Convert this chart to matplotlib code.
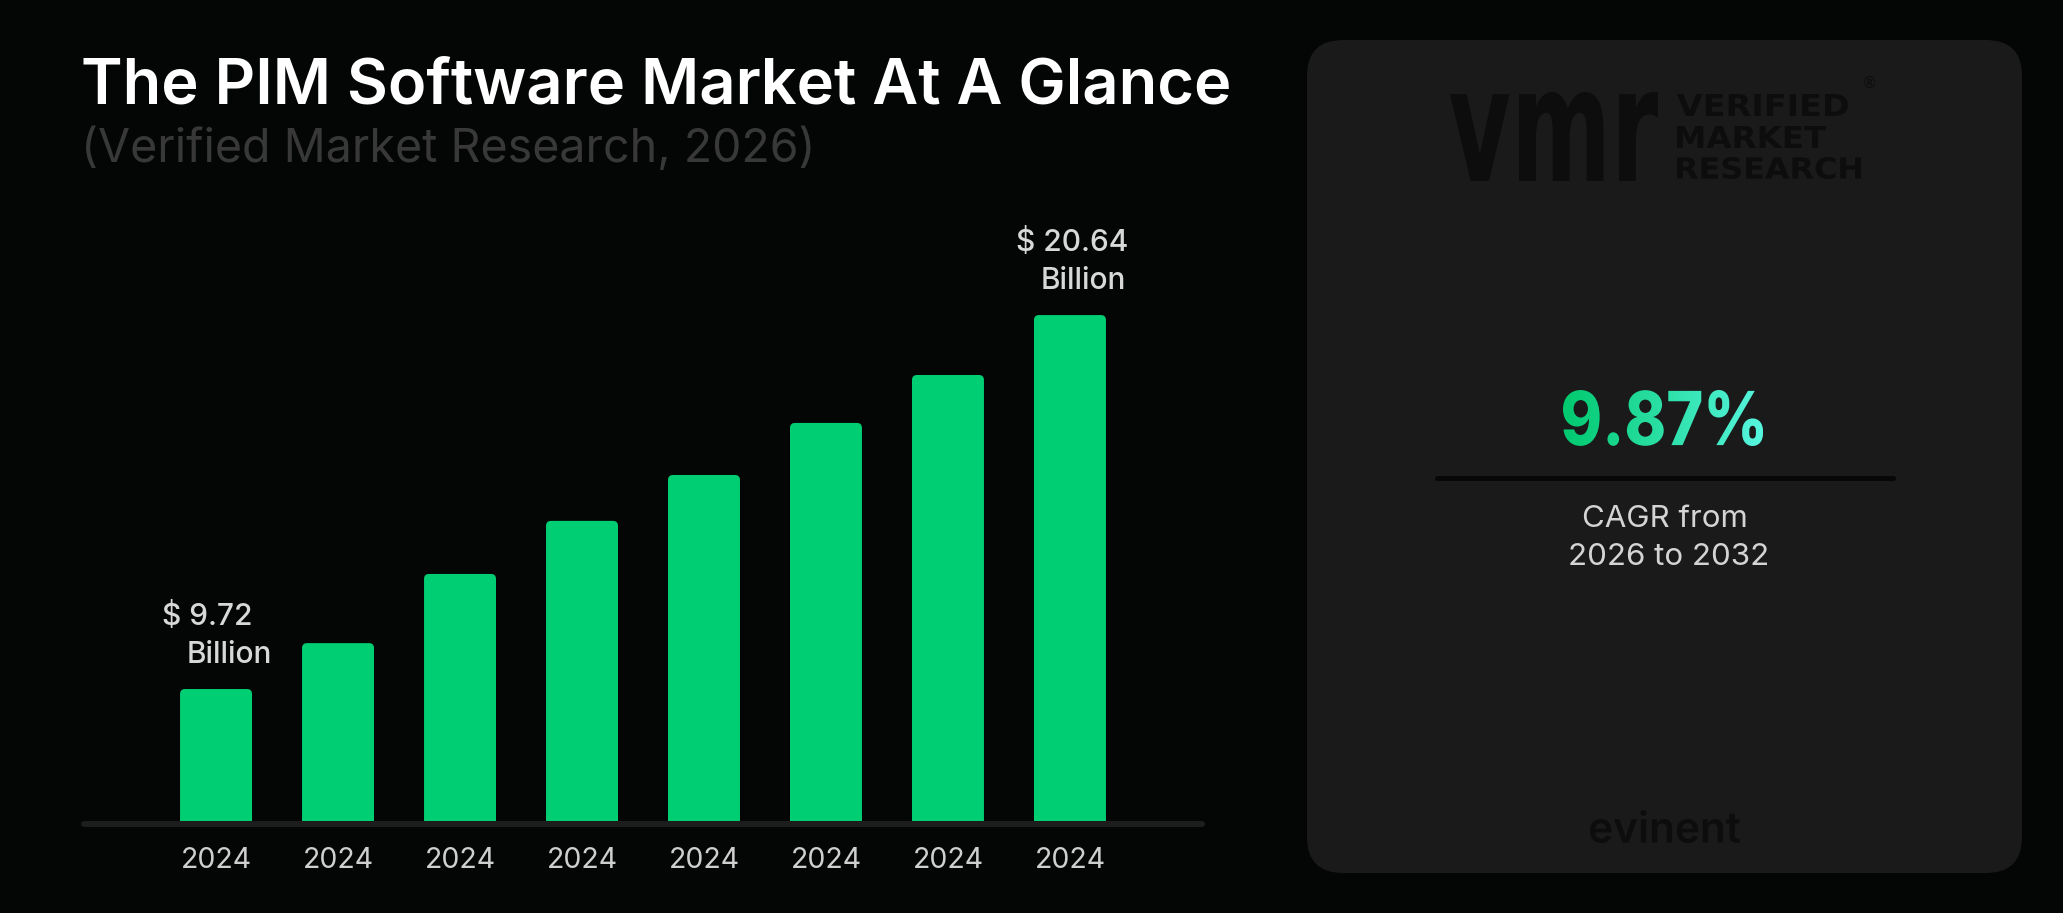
import numpy as np
import matplotlib
matplotlib.use('Agg')
import matplotlib.pyplot as plt
from matplotlib.patches import FancyBboxPatch
from matplotlib.patheffects import AbstractPathEffect
from matplotlib.transforms import Affine2D, TransformedPath

# ---------------- data ----------------
years = ['2024', '2024', '2024', '2024', '2024', '2024', '2024', '2024']
values = [9.72, 11.06, 13.08, 14.63, 15.97, 17.49, 18.89, 20.64]
first_label = '$ 9.72'
last_label = '$ 20.64'
unit_label = 'Billion'
title = 'The PIM Software Market At A Glance'
subtitle = '(Verified Market Research, 2026)'
cagr_value = '9.87%'
cagr_lines = ['CAGR from', '2026 to 2032']
logo_lines = ['VERIFIED', 'MARKET', 'RESEARCH']

# ---------------- style ----------------
FONT = ['Inter', 'DejaVu Sans']
BG = '#040505'
BAR = '#00CE73'
PANEL = '#1a1a1a'
LOGO = '#0d0d0d'
W, H, DPI = 2063, 913, 100

plt.rcParams['font.family'] = FONT


class FitFill(AbstractPathEffect):
    """Draw text path, optionally fitted into a pixel box and/or gradient filled."""

    def __init__(self, box=None, colors=None):
        super().__init__()
        self.box = box
        self.colors = colors

    def draw_path(self, renderer, gc, tpath, affine, rgbFace=None):
        if self.box is not None:
            ext = tpath.transformed(affine).get_extents()
            x0, yt, x1, yb = self.box
            hh = renderer.height
            dy0, dy1 = hh - yb, hh - yt
            sx = (x1 - x0) / ext.width
            sy = (dy1 - dy0) / ext.height
            affine = affine + Affine2D().translate(-ext.x0, -ext.y0).scale(sx, sy).translate(x0, dy0)
        if self.colors is None:
            renderer.draw_path(gc, tpath, affine, rgbFace)
            return
        tp = TransformedPath(tpath, affine)
        ext = tp.get_fully_transformed_path().get_extents()
        w = int(np.ceil(ext.width)) + 4
        h = int(np.ceil(ext.height)) + 4
        c0 = np.array(matplotlib.colors.to_rgb(self.colors[0]))
        c1 = np.array(matplotlib.colors.to_rgb(self.colors[1]))
        t = np.linspace(0, 1, w)[:, None]
        row = (c0 * (1 - t) + c1 * t) * 255
        arr = np.zeros((h, w, 4), dtype=np.uint8)
        arr[:, :, :3] = row[None, :, :].astype(np.uint8)
        arr[:, :, 3] = 255
        gc2 = renderer.new_gc()
        gc2.copy_properties(gc)
        gc2.set_clip_path(tp)
        renderer.draw_image(gc2, int(np.floor(ext.x0)) - 2, int(np.floor(ext.y0)) - 2, arr)
        gc2.restore()


fig = plt.figure(figsize=(W / DPI, H / DPI), dpi=DPI, facecolor=BG)

# overlay axes in pixel coordinates (origin top-left)
bg = fig.add_axes([0, 0, 1, 1], zorder=0)
bg.set_facecolor(BG)
bg.axis('off')

# ---------------- bar chart ----------------
ax_l, ax_r, ax_t, ax_b = 81, 1205, 200, 821
ax = fig.add_axes([ax_l / W, (H - ax_b) / H, (ax_r - ax_l) / W, (ax_b - ax_t) / H], zorder=1)
ax.patch.set_alpha(0)
x = np.arange(len(values))
ax.set_xlim(-1.107, 8.107)
ax.set_ylim(5.866, 24.0)
bars = ax.bar(x, values, width=0.59, color=BAR)

xr = (8.107 + 1.107) / (ax_r - ax_l)
yr = (24.0 - 5.866) / (ax_b - ax_t)
for rect in bars:
    rect.set_visible(False)
    p = FancyBboxPatch((rect.get_x(), rect.get_y()), rect.get_width(), rect.get_height(),
                       boxstyle=f'round,pad=0,rounding_size={5 * xr}',
                       mutation_aspect=yr / xr, fc=BAR, ec='none', zorder=2)
    ax.add_patch(p)

for s in ax.spines.values():
    s.set_visible(False)
ax.set_yticks([])
ax.set_xticks(x, years)
ax.tick_params(axis='x', length=0, pad=19, labelsize=20.5, labelcolor='#cfcfcf')

lab_kw = dict(textcoords='offset pixels', ha='left', va='baseline', fontsize=21.5, color='#d8d8d8',
              weight='medium')
ax.annotate(first_label, xy=(x[0], values[0]), xytext=(-54, 64), **lab_kw)
ax.annotate(unit_label, xy=(x[0], values[0]), xytext=(-29, 26), **lab_kw)
ax.annotate(last_label, xy=(x[-1], values[-1]), xytext=(-54, 64), **lab_kw)
ax.annotate(unit_label, xy=(x[-1], values[-1]), xytext=(-29, 26), **lab_kw)

# baseline rule
bg.plot([84, 1202], [824, 824], lw=4.3, color='#1d1d1d', solid_capstyle='round')

# ---------------- titles ----------------
bg.text(81, 103, title, fontsize=45.5, color='white', ha='left', va='baseline', weight='semibold')
bg.text(81, 162, subtitle, fontsize=33.5, color='#383838', ha='left', va='baseline')

# ---------------- right panel ----------------
bg.add_patch(FancyBboxPatch((1307, 40), 715, 833, boxstyle='round,pad=0,rounding_size=36',
                            fc=PANEL, ec='none'))

bg.text(1554, 181, 'vmr', fontsize=60, weight='bold', color=LOGO, ha='center', va='baseline',
        family=['DejaVu Sans'], path_effects=[FitFill(box=(1450, 92, 1658, 181))])
logo_boxes = [(1677, 94, 1848, 116), (1677, 126, 1826, 148), (1677, 157, 1861, 179)]
for txt, bx in zip(logo_lines, logo_boxes):
    bg.text(bx[0], bx[3], txt, fontsize=21, weight='bold', color=LOGO, ha='left', va='baseline',
            family=['DejaVu Sans'], path_effects=[FitFill(box=bx)])
bg.text(1869, 83, '®', fontsize=11, color=LOGO, ha='center', va='center', family=['DejaVu Sans'])

bg.text(1663, 446, cagr_value, fontsize=55, weight='heavy', color='#00CC70', ha='center', va='baseline',
        path_effects=[FitFill(box=(1563, 390, 1763, 446), colors=('#00C96D', '#58F6E0'))])

bg.plot([1437, 1893], [478, 478], lw=3.6, color='#070707', solid_capstyle='round')

bg.text(1665, 527, cagr_lines[0], fontsize=22.5, color='#d4d4d4', ha='center', va='baseline')
bg.text(1669, 565, cagr_lines[1], fontsize=22.5, color='#d4d4d4', ha='center', va='baseline')

bg.text(1665, 843, 'evinent', fontsize=34, weight='semibold', color=LOGO, ha='center', va='baseline',
        path_effects=[FitFill(box=(1590, 810, 1740, 843))])

bg.set_xlim(0, W)
bg.set_ylim(H, 0)

fig.savefig('out.png', dpi=DPI, facecolor=BG)
